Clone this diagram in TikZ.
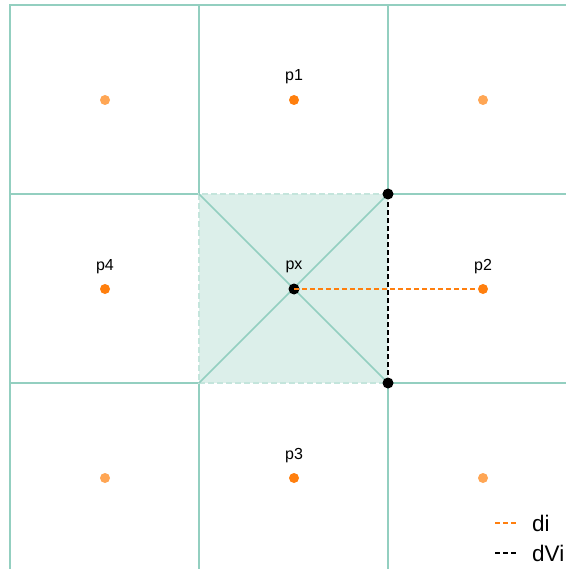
\documentclass[tikz,border=0pt]{standalone}
\usepackage{fontspec}
\setmainfont{Liberation Sans}
\begin{document}
\begin{tikzpicture}[x=1pt,y=-1pt,
  gridline/.style={draw=tealline,line width=1.6pt},
  pdot/.style={circle,fill=orgdark,inner sep=0pt,minimum size=10pt},
  cdot/.style={circle,fill=orglight,inner sep=0pt,minimum size=10pt},
  bdot/.style={circle,fill=black,inner sep=0pt,minimum size=11pt},
  lbl/.style={font=\fontsize{16}{19}\selectfont,inner sep=0pt},
  leg/.style={font=\fontsize{22.5}{26}\selectfont,inner sep=0pt,anchor=west},
  dashline/.style={line width=1.3pt,dash pattern=on 5pt off 3pt}]
\definecolor{tealline}{HTML}{93CFC0}
\definecolor{tealfill}{HTML}{DCEFEA}
\definecolor{orgdark}{HTML}{FF7F0E}
\definecolor{orglight}{HTML}{FFA654}
\useasboundingbox (0,0) rectangle (566,569);
% shaded cell
\fill[tealfill] (199,194) rectangle (388,383);
% grid
\draw[gridline] (10,569) -- (10,5) -- (566,5);
\draw[gridline] (199,5) -- (199,194);
\draw[gridline] (199,383) -- (199,569);
\draw[gridline] (388,5) -- (388,194);
\draw[gridline] (388,383) -- (388,569);
\draw[gridline] (10,194) -- (199,194);
\draw[gridline] (388,194) -- (566,194);
\draw[gridline] (10,383) -- (199,383);
\draw[gridline] (388,383) -- (566,383);
% dashed edges of cell
\draw[draw=tealline!55,line width=1.3pt,dash pattern=on 6pt off 3pt] (388,194) -- (199,194) -- (199,383) -- (388,383);
\draw[black,dashline] (388,194) -- (388,383);
% diagonals
\draw[gridline] (199,194) -- (388,383);
\draw[gridline] (388,194) -- (199,383);
% dots
\node[cdot] (c1) at (105,100) {};
\node[cdot] (c2) at (483,100) {};
\node[cdot] (c3) at (105,478) {};
\node[cdot] (c4) at (483,478) {};
\node[pdot] (p1) at (294,100) {};
\node[pdot] (p2) at (483,289) {};
\node[pdot] (p3) at (294,478) {};
\node[pdot] (p4) at (105,289) {};
\node[bdot] (px) at (294,289) {};
\node[bdot] (v1) at (388,194) {};
\node[bdot] (v2) at (388,383) {};
\draw[orgdark,dashline] (px.center) -- (p2.west);
% labels
\node[lbl] (lp1) at (294,77) {p1};
\node[lbl] (lp2) at (483,267) {p2};
\node[lbl] (lp3) at (294,456) {p3};
\node[lbl] (lp4) at (105,267) {p4};
\node[lbl] (lpx) at (294,267) {px};
% legend
\coordinate (la1) at (495,523);
\coordinate (la2) at (518,523);
\coordinate (lb1) at (495,553);
\coordinate (lb2) at (518,553);
\draw[orgdark,line width=1.2pt,dash pattern=on 5pt off 3pt] (la1) -- (la2);
\draw[black,line width=1.2pt,dash pattern=on 5pt off 3pt] (lb1) -- (lb2);
\node[leg] (ldi) at (532,523) {di};
\node[leg] (ldv) at (532,553) {dVi};
\end{tikzpicture}
\end{document}
